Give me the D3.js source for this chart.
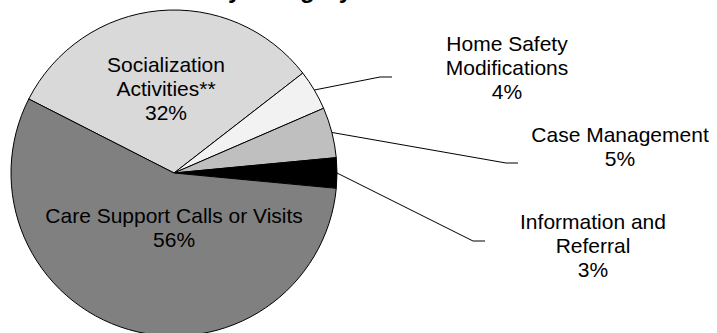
<!DOCTYPE html>
<html>
<head>
<meta charset="utf-8">
<script src="https://cdn.jsdelivr.net/npm/d3@7/dist/d3.min.js"></script>
<style>
  html, body { margin: 0; padding: 0; background: #fff; }
  svg { display: block; font-family: "Liberation Sans", Arial, sans-serif; }
</style>
</head>
<body>
<svg id="chart" width="717" height="333"></svg>
<script>
// Share of services by category (percent)
const categories = [
  "Socialization Activities**",
  "Home Safety Modifications",
  "Case Management",
  "Information and Referral",
  "Care Support Calls or Visits"
];
const values = [32, 4, 5, 3, 56];
const valueLabels = ["32%", "4%", "5%", "3%", "56%"];
// Label text broken into lines as drawn
const labelLines = [
  ["Socialization", "Activities**"],
  ["Home Safety", "Modifications"],
  ["Case Management"],
  ["Information and", "Referral"],
  ["Care Support Calls or Visits"]
];
const fills = ["#d9d9d9", "#f2f2f2", "#bfbfbf", "#000000", "#808080"];
const titleText = "Services by Category";

const svg = d3.select("#chart");
const W = 717, H = 333;
const cx = 174, cy = 173, R = 163;
const lineH = 24;

svg.append("rect").attr("width", W).attr("height", H).attr("fill", "#fff");

// Title sits mostly above the top edge; only its lower part shows
svg.append("text")
  .attr("x", 230).attr("y", -2)
  .attr("text-anchor", "middle")
  .attr("font-size", 24).attr("font-weight", "bold")
  .attr("fill", "#000")
  .text(titleText);

const data = categories.map((c, i) => ({ name: c, value: values[i], i }));

const pie = d3.pie()
  .value(d => d.value)
  .sort(null)
  .startAngle(-63 * Math.PI / 180)
  .endAngle(-63 * Math.PI / 180 + 2 * Math.PI);

const arcs = pie(data);
const arc = d3.arc().innerRadius(0).outerRadius(R);

const g = svg.append("g").attr("transform", `translate(${cx},${cy})`);

g.selectAll("path.slice")
  .data(arcs)
  .join("path")
  .attr("class", "slice")
  .attr("d", arc)
  .attr("fill", d => fills[d.data.i])
  .attr("stroke", "#000")
  .attr("stroke-width", 1)
  .attr("stroke-linejoin", "round");

// Label placement: inside labels for the big slices, leader lines for the small ones
const layout = [
  { inside: true, r: 0.52, dx: 0, dy: 0 },
  { inside: false, elbow: [380, 77], end: [392, 77], text: [507, 44] },
  { inside: false, elbow: [506, 163], end: [518, 163], text: [620, 135] },
  { inside: false, elbow: [473, 241], end: [485, 241], text: [593, 222] },
  { inside: true, r: 0.35, dx: 16, dy: 0 }
];

function drawLabel(x, yFirst, lines) {
  const t = svg.append("text")
    .attr("text-anchor", "middle")
    .attr("font-size", 21)
    .attr("fill", "#000");
  lines.forEach((ln, k) => {
    t.append("tspan")
      .attr("x", x)
      .attr("y", yFirst + k * lineH)
      .attr("dy", "0.35em")
      .text(ln);
  });
}

arcs.forEach(a => {
  const i = a.data.i;
  const L = layout[i];
  const mid = (a.startAngle + a.endAngle) / 2;
  const lines = labelLines[i].concat([valueLabels[i]]);
  if (L.inside) {
    const rr = R * L.r;
    const px = cx + rr * Math.sin(mid) + L.dx;
    const py = cy - rr * Math.cos(mid) + L.dy;
    const yFirst = py - (lines.length - 1) * lineH / 2;
    drawLabel(px, yFirst, lines);
  } else {
    const sx = cx + R * Math.sin(mid);
    const sy = cy - R * Math.cos(mid);
    svg.append("polyline")
      .attr("points", [[sx, sy], L.elbow, L.end].map(p => p.join(",")).join(" "))
      .attr("fill", "none")
      .attr("stroke", "#000")
      .attr("stroke-width", 1);
    drawLabel(L.text[0], L.text[1], lines);
  }
});
</script>
</body>
</html>
